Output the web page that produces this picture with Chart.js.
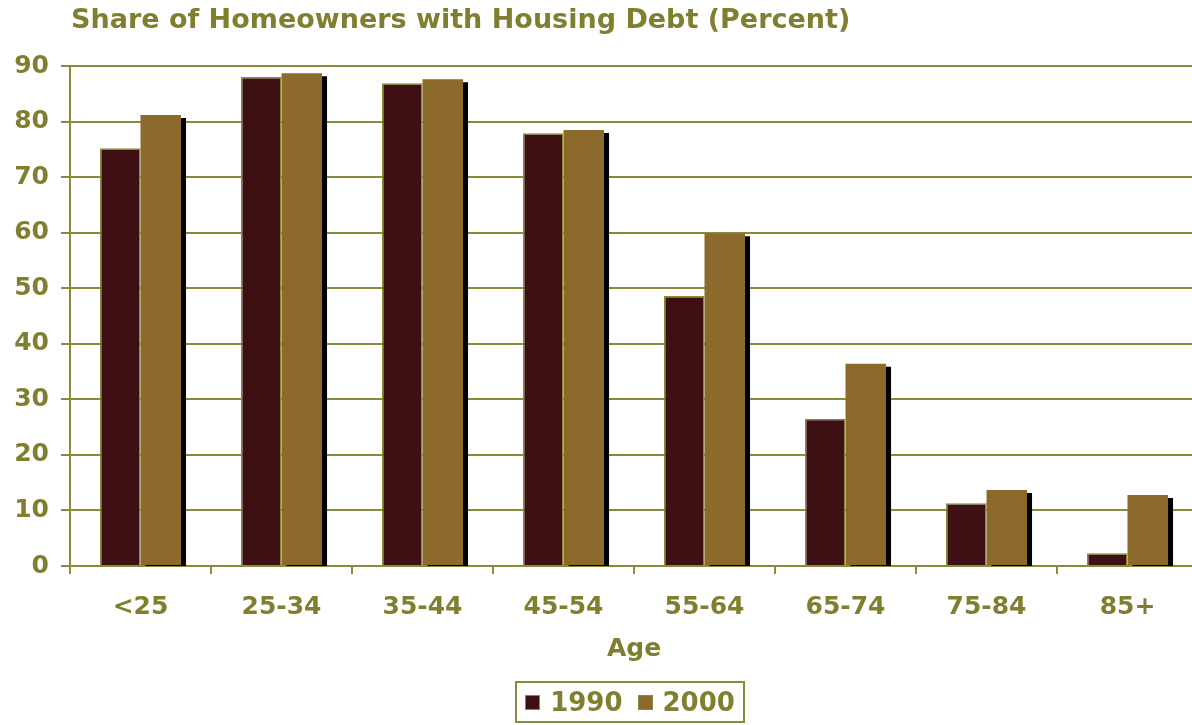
<!DOCTYPE html>
<html>
<head>
<meta charset="utf-8">
<script src="https://cdn.jsdelivr.net/npm/chart.js@4"></script>
<style>
  body { margin: 0; overflow: hidden; background: #fff; font-family: "DejaVu Sans", Verdana, sans-serif; }
  #wrap { position: relative; width: 1200px; height: 725px; }
  #title { position: absolute; left: 71px; top: 2px; font-size: 27px; font-weight: bold; color: #7f7f2f; white-space: nowrap; line-height: 34px; }
  #legend { position: absolute; left: 515px; top: 681px; width: 230px; height: 42px; border: 2px solid #8a8a3a; box-sizing: border-box;
            display: flex; align-items: center; justify-content: center; font-size: 26px; font-weight: bold; color: #7f7f2f; }
  #legend span.sw { display: inline-block; width: 15px; height: 15px; margin: 0 10px 0 0; border: 1px solid #8a8a3a; box-sizing: border-box; }
  #legend span.lb { margin-right: 15px; }
  #legend span.lb:last-child { margin-right: 0; }
</style>
</head>
<body>
<div id="wrap">
  <div id="title">Share of Homeowners with Housing Debt (Percent)</div>
  <canvas id="chart" width="1200" height="725"></canvas>
  <div id="legend">
    <span class="sw" style="background:#3e1014"></span><span class="lb">1990</span>
    <span class="sw" style="background:#8b6a2b"></span><span class="lb">2000</span>
  </div>
</div>
<script>
// 연령대
const ageGroups = ["<25", "25-34", "35-44", "45-54", "55-64", "65-74", "75-84", "85+"];
// 주택담보 부채 보유 비율 (%)
const share1990 = [75.2, 88.0, 86.9, 77.9, 48.6, 26.5, 11.3, 2.3];
const share2000 = [81.2, 88.7, 87.6, 78.5, 59.9, 36.4, 13.7, 12.8];
const yTicks = [0, 10, 20, 30, 40, 50, 60, 70, 80, 90];

const olive = "#7f7f2f";
const gridColor = "#8a8a3a";

// 2000 막대 그림자
const barShadow = {
    id: "barShadow",
    beforeDatasetDraw(chart, args) {
        if (args.index !== 1) return;
        const ctx = chart.ctx;
        ctx.save();
        ctx.shadowColor = "#000";
        ctx.shadowOffsetX = 5;
        ctx.shadowOffsetY = 3;
        ctx.shadowBlur = 0;
    },
    afterDatasetDraw(chart, args) {
        if (args.index !== 1) return;
        chart.ctx.restore();
    }
};

Chart.defaults.font.family = '"DejaVu Sans", Verdana, sans-serif';
Chart.defaults.font.weight = "bold";

new Chart(document.getElementById("chart"), {
    type: "bar",
    data: {
        labels: ageGroups,
        datasets: [
            {
                label: "1990",
                data: share1990,
                backgroundColor: "#3e1014",
                borderColor: "#8a8a3a",
                borderWidth: 1.5,
                categoryPercentage: 0.575,
                barPercentage: 1
            },
            {
                label: "2000",
                data: share2000,
                backgroundColor: "#8b6a2b",
                borderWidth: 0,
                categoryPercentage: 0.575,
                barPercentage: 1
            }
        ]
    },
    options: {
        responsive: false,
        animation: false,
        layout: { padding: { top: 66, bottom: 60, left: 0, right: 2 } },
        plugins: {
            legend: { display: false },
            title: { display: false },
            tooltip: { enabled: false }
        },
        scales: {
            x: {
                z: 1,
                grid: { drawOnChartArea: false, drawTicks: true, tickLength: 8, color: gridColor, lineWidth: 2 },
                border: { color: gridColor, width: 2 },
                ticks: { color: olive, font: { size: 25, weight: "bold" }, padding: 18 },
                title: { display: true, text: "Age", color: olive, font: { size: 25, weight: "bold" }, padding: { top: 4, bottom: 1 } },
                afterFit(scale) { scale.height = 99; }
            },
            y: {
                min: 0,
                max: 90,
                afterBuildTicks(scale) { scale.ticks = yTicks.map(v => ({ value: v })); },
                grid: { color: gridColor, lineWidth: 2, tickLength: 9 },
                border: { color: gridColor, width: 2 },
                ticks: { color: olive, font: { size: 25, weight: "bold" }, padding: 12 },
                afterFit(scale) { scale.width = 70; }
            }
        }
    },
    plugins: [barShadow]
});
</script>
</body>
</html>
